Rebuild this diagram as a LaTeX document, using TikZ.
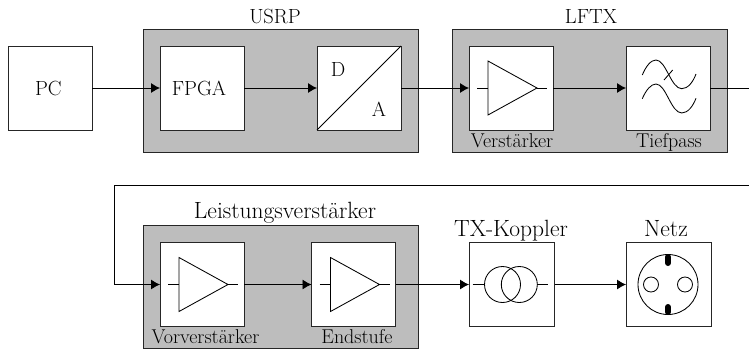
\documentclass[tikz,border=0pt]{standalone}
\usetikzlibrary{arrows.meta,positioning}
\definecolor{panel}{gray}{0.74}
\tikzset{
  x=1pt,y=-1pt,
  panelbox/.style={draw=black!85,fill=panel,line width=1pt,minimum width=275pt,minimum height=123pt,inner sep=0pt,outer sep=0pt,anchor=north west},
  block/.style={draw=black!85,fill=white,line width=0.9pt,minimum width=84pt,minimum height=84pt,inner sep=0pt,outer sep=0pt,anchor=north west},
  sym/.style={line width=0.85pt,black},
  conn/.style={line width=0.9pt,black,-{Latex[length=9pt,width=10pt,black]}},
  plain/.style={line width=0.9pt,black},
  big/.style={font=\fontsize{20.5}{21}\selectfont,inner sep=0pt},
  wide/.style={font=\fontsize{23.5}{24}\selectfont,inner sep=0pt},
  small/.style={font=\fontsize{20}{21}\selectfont,inner sep=0pt},
}
\newcommand{\ampsym}[1]{%
  \draw[sym] ([xshift=8pt]#1.west) -- ++(11pt,0);
  \draw[sym] ([xshift=19pt,yshift=27pt]#1.west) -- ([xshift=19pt,yshift=-27pt]#1.west) -- ([xshift=68pt]#1.west) -- cycle;
  \draw[sym] ([xshift=68pt]#1.west) -- ([xshift=78pt]#1.west);
}
\begin{document}
\begin{tikzpicture}
\useasboundingbox (0,0) rectangle (749,349);
\node[panelbox] (usrp) at (143,29) {};
\node[panelbox] (lftx) at (452,29) {};
\node[panelbox] (lv) at (143,225) {};
\node[block] (pc) at (8,46) {};
\node[block] (fpga) at (160,46) {};
\node[block] (da) at (317,46) {};
\node[block] (verst) at (469,46) {};
\node[block] (tief) at (626,46) {};
\node[block] (vor) at (160,242.5) {};
\node[block] (end) at (311.5,242.5) {};
\node[block,minimum width=85.5pt] (tx) at (469,242.5) {};
\node[block,minimum width=85.5pt] (netz) at (626,242.5) {};
\node[big] (pclabel) at (48.3,88) {PC};
\node[big] (fpgalabel) at (199,88) {FPGA};
\node[big] (dlabel) at (338,69.5) {D};
\node[big] (alabel) at (379,109) {A};
\draw[sym] (da.south west) -- (da.north east);
\node[big,anchor=base] (usrpt) at (275,23) {USRP};
\node[big,anchor=base] (lftxt) at (591,23) {LFTX};
\node[wide,anchor=base] (lvt) at (285,218) {Leistungsverstärker};
\node[wide,anchor=base] (txt) at (511,236) {TX-Koppler};
\node[wide,anchor=base] (netzt) at (666,236) {Netz};
\node[small,anchor=base] (vl) at (512,147) {Verstärker};
\node[small,anchor=base] (tl) at (669,147) {Tiefpass};
\node[small,anchor=base] (vvl) at (205.5,343) {Vorverstärker};
\node[small,anchor=base] (el) at (357,343) {Endstufe};
\ampsym{verst}
\ampsym{vor}
\ampsym{end}
% Tiefpass waves
\begin{scope}[sym]
\draw (642.3,75) .. controls (646,66) and (651,60) .. (656,60) .. controls (666,60) and (671,88.7) .. (681.7,88.7) .. controls (688,88.7) and (693,82) .. (696,74);
\draw (642.3,98.7) .. controls (646,90) and (651,84) .. (656,84) .. controls (666,84) and (671,113) .. (681.7,113) .. controls (688,113) and (693,106) .. (696,98.3);
\draw (664,80) -- (672.7,70);
\end{scope}
% transformer
\draw[sym] (472.7,284.5) -- (484.3,284.5);
\draw[sym] (537.3,284.5) -- (548,284.5);
\draw[sym] (502.5,284.5) circle (18);
\draw[sym] (519.3,284.5) circle (18);
% socket
\draw[sym] (668,284.5) circle (30);
\draw[sym] (651,284.5) circle (7.5);
\draw[sym] (685,284.5) circle (7.5);
\draw[line width=6pt,line cap=round,black] (668,257) -- (668,263);
\draw[line width=6pt,line cap=round,black] (668,307) -- (668,312);
% connectors
\draw[conn] (pc.east) -- (fpga.west);
\draw[conn] (fpga.east) -- (da.west);
\draw[conn] (da.east) -- (verst.west);
\draw[conn] (verst.east) -- (tief.west);
\coordinate (rightend) at (tief.east -| 749,0);
\draw[plain] (tief.east) -- (rightend);
\coordinate (fbstart) at (749,185.5);
\coordinate (fbcorner) at (114.5,185.5);
\coordinate (fbdown) at (vor.west -| fbcorner);
\draw[conn] (fbstart) -- (fbcorner) -- (fbdown) -- (vor.west);
\draw[conn] (vor.east) -- (end.west);
\draw[conn] (end.east) -- (tx.west);
\draw[conn] (tx.east) -- (netz.west);
\end{tikzpicture}
\end{document}
